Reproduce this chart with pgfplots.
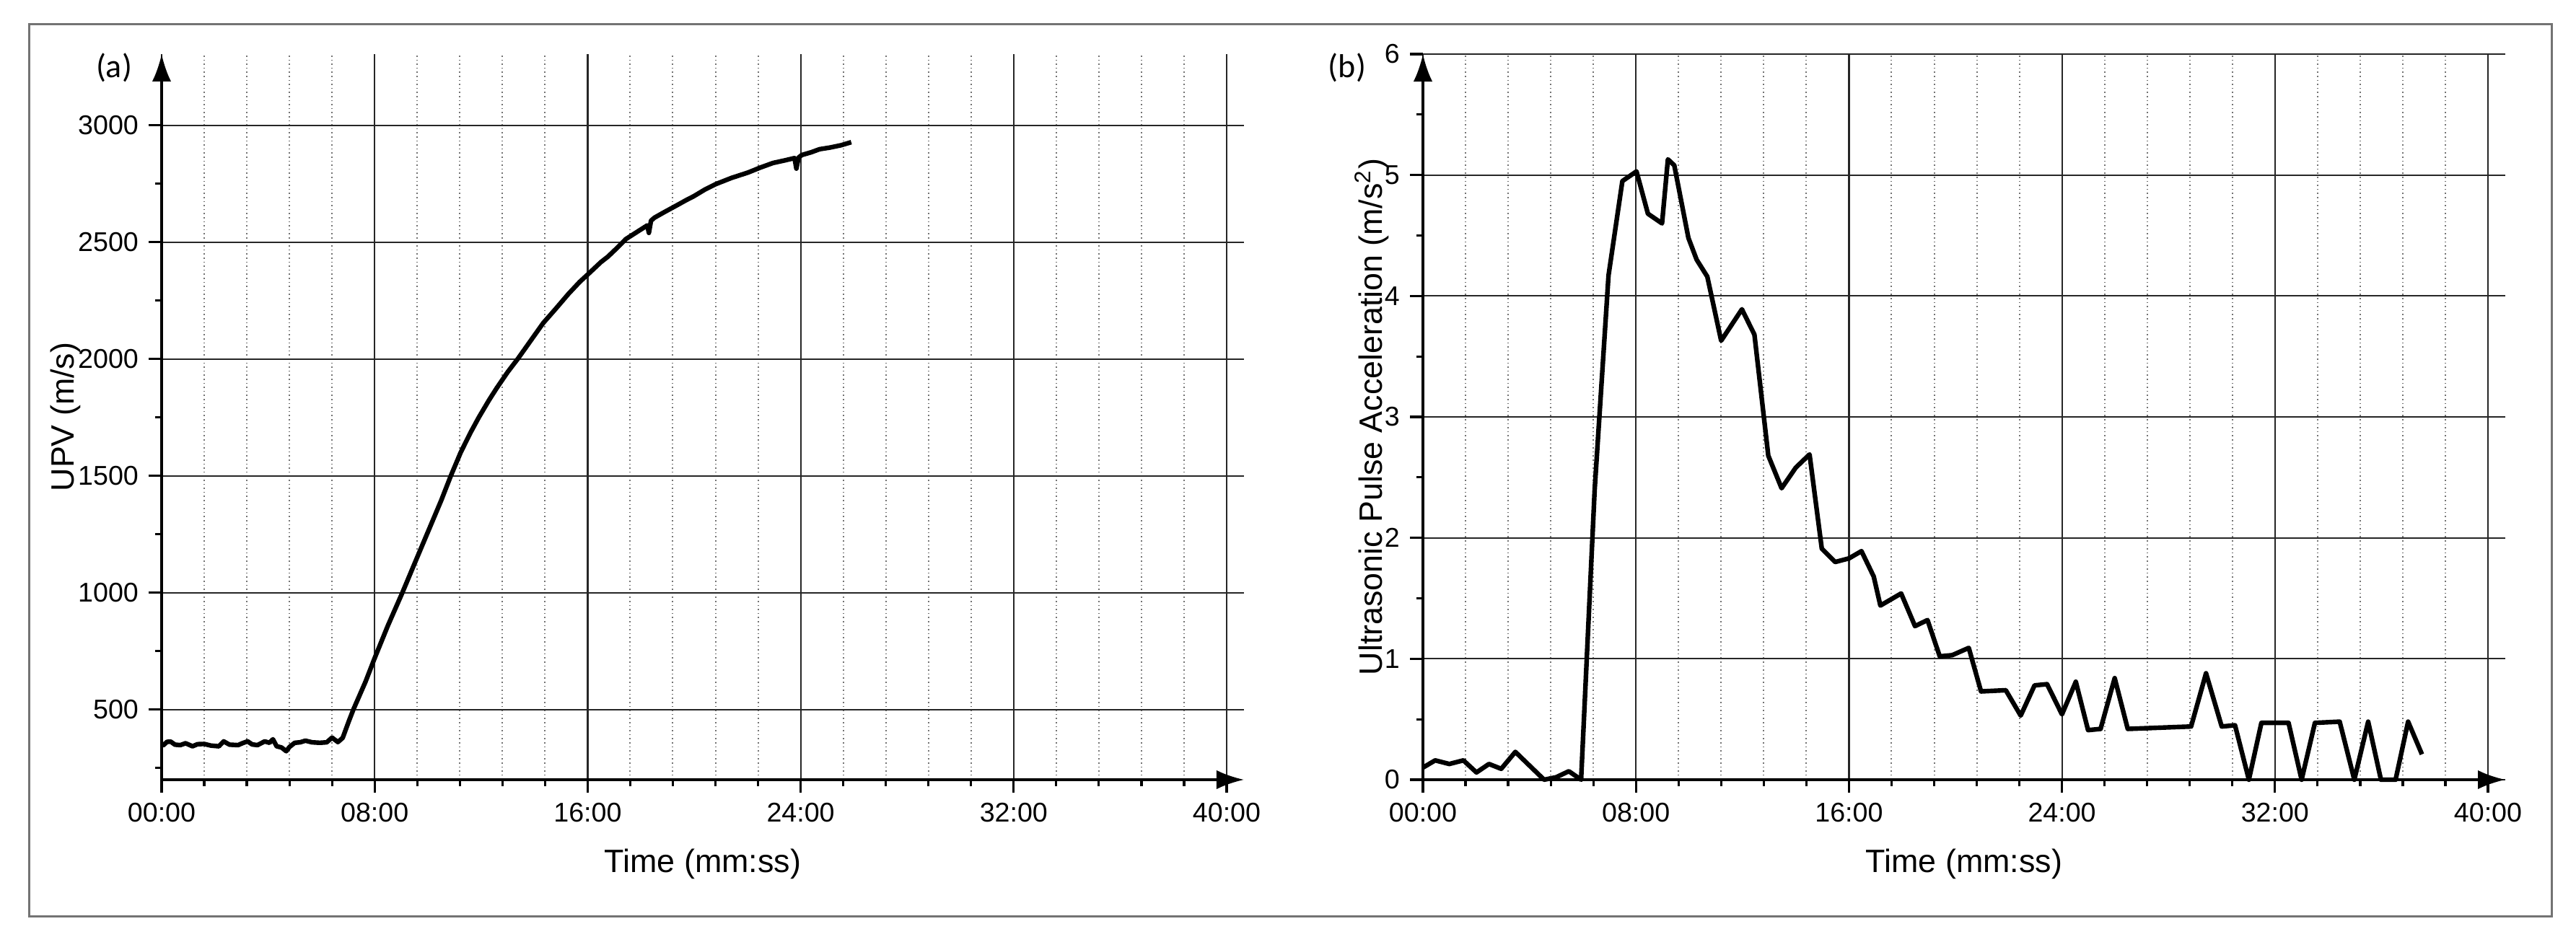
\documentclass[border=0pt]{standalone}
\usepackage{fontspec}
\setmainfont{Liberation Sans}
\newfontfamily\panelfont{Carlito}
\usepackage{pgfplots}
\pgfplotsset{compat=1.18}
\usetikzlibrary{arrows.meta}

\pgfplotsset{
  panel/.style={
    scale only axis, width=375pt, height=251.5pt,
    anchor=south west,
    axis lines=left,
    xmin=0, xmax=40.65,
    xtick={0,8,16,24,32,40},
    xticklabels={00:00,08:00,16:00,24:00,32:00,40:00},
    minor x tick num=4,
    xmajorgrids, xminorgrids, ymajorgrids,
    major grid style={black!85, line width=0.55pt},
    minor grid style={black!55, densely dotted, line width=0.5pt},
    tick align=outside,
    major tick length=4.5pt, minor tick length=2.3pt,
    tick style={black, line width=0.8pt},
    axis line style={black, line width=0.85pt, -{Latex[length=9.5pt,width=6.6pt]}},
    every outer x axis line/.append style={-{Latex[length=9.5pt,width=6.6pt]}},
    every outer y axis line/.append style={-{Latex[length=9.5pt,width=6.6pt]}},
    ticklabel style={font=\fontsize{9.4}{11}\selectfont},
    /pgf/number format/assume math mode=true,
    label style={font=\fontsize{11.2}{13}\selectfont},
    xlabel={Time (mm:ss)},
    xlabel style={at={(axis description cs:0.5,-0.1282)}, anchor=base},
  },
  curve/.style={black, line width=1.6pt, line join=round, mark=none},
}

\begin{document}
\begin{tikzpicture}
\path (0,0) rectangle (892.5pt,326.5pt);
\draw[black!55, line width=0.75pt] (10pt,8.75pt) rectangle (884pt,318pt);

% (a) UPV
\begin{axis}[panel, at={(56pt,56.25pt)},
  ymin=200, ymax=3305,
  ytick={500,1000,1500,2000,2500,3000},
  yticklabels={500,1000,1500,2000,2500,3000},
  minor ytick={250,750,1250,1750,2250,2750},
  ylabel={UPV (m/s)},
  ylabel style={at={(axis description cs:-0.081,0.5)}, anchor=base},
]
\addplot[curve] coordinates {
(0.00,352) (0.07,348) (0.20,362) (0.34,363) (0.50,350) (0.70,348) (0.90,356)
(1.16,343) (1.35,352) (1.60,353) (1.85,346) (2.15,343) (2.33,364) (2.55,350)
(2.87,348) (3.05,357) (3.23,364) (3.40,351) (3.60,348) (3.87,364) (4.05,358)
(4.18,373) (4.32,343) (4.50,338) (4.68,322) (4.80,340) (5.00,358) (5.20,360)
(5.40,367) (5.65,360) (5.94,358) (6.20,360) (6.40,380) (6.62,361) (6.80,379)
(7.03,450) (7.20,500) (7.66,620) (8.00,720) (8.50,860) (9.04,1000) (9.50,1125)
(10.00,1260) (10.50,1395) (10.86,1500) (11.23,1600) (11.60,1685) (11.91,1750)
(12.30,1825) (12.58,1875) (13.00,1945) (13.39,2003) (13.90,2085) (14.33,2154)
(14.80,2215) (15.28,2279) (15.70,2330) (16.09,2371) (16.50,2415) (16.76,2438)
(17.10,2475) (17.43,2513) (17.80,2540) (18.24,2572) (18.30,2540) (18.38,2592)
(18.51,2605) (18.90,2630) (19.32,2656) (19.70,2680) (19.99,2697) (20.40,2725)
(20.80,2748) (21.40,2775) (22.02,2798) (22.50,2820) (22.96,2839) (23.40,2850)
(23.77,2860) (23.84,2815) (23.92,2862) (24.04,2873) (24.40,2885) (24.71,2898)
(25.10,2905) (25.52,2915) (25.90,2928)
};
\end{axis}

% (b) acceleration
\begin{axis}[panel, at={(493pt,56.25pt)},
  ymin=0, ymax=6,
  ytick={0,1,2,3,4,5,6},
  yticklabels={0,1,2,3,4,5,6},
  minor ytick={0.5,1.5,2.5,3.5,4.5,5.5},
  ylabel={Ultrasonic Pulse Acceleration (m/s\textsuperscript{2})},
  ylabel style={at={(axis description cs:-0.038,0.5)}, anchor=base},
  clip=false,
]
\addplot[curve] coordinates {
(0.00,0.10) (0.46,0.16) (0.99,0.13) (1.52,0.16) (2.01,0.06) (2.48,0.13)
(2.94,0.09) (3.47,0.23) (4.55,0.00) (5.00,0.02) (5.48,0.07) (5.94,0.00)
(6.45,2.40) (6.97,4.17) (7.49,4.95) (8.02,5.03) (8.45,4.68) (8.98,4.60)
(9.20,5.13) (9.44,5.08) (9.97,4.48) (10.28,4.30) (10.68,4.16) (11.20,3.63)
(11.98,3.89) (12.45,3.68) (12.97,2.68) (13.47,2.41) (14.00,2.58) (14.52,2.69)
(14.98,1.91) (15.48,1.80) (16.00,1.83) (16.47,1.89) (16.93,1.68) (17.18,1.44)
(17.96,1.54) (18.48,1.27) (18.95,1.32) (19.41,1.02) (19.88,1.03) (20.50,1.09)
(20.96,0.73) (21.89,0.74) (22.45,0.53) (22.97,0.78) (23.44,0.79) (24.00,0.54)
(24.52,0.81) (24.98,0.41) (25.45,0.42) (25.98,0.84) (26.47,0.42) (28.85,0.44)
(29.41,0.88) (30.00,0.44) (30.50,0.45) (31.02,0.00) (31.49,0.47) (32.51,0.47)
(33.00,0.00) (33.50,0.47) (34.43,0.48) (34.98,0.00) (35.50,0.48) (35.98,0.00)
(36.53,0.00) (37.00,0.48) (37.52,0.21)
};
\end{axis}

\node[font=\panelfont\fontsize{11.5}{13}\selectfont, anchor=base] at (39.5pt,299.5pt) {(a)};
\node[font=\panelfont\fontsize{11.5}{13}\selectfont, anchor=base] at (466.75pt,299.5pt) {(b)};
\end{tikzpicture}
\end{document}
